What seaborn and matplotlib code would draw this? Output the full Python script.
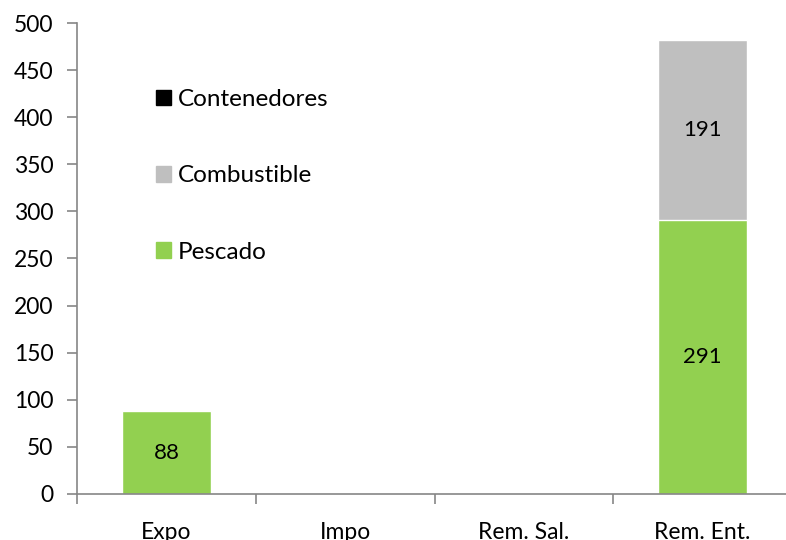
import matplotlib
matplotlib.use("Agg")
import matplotlib.pyplot as plt
from matplotlib.patches import Patch
from matplotlib.ticker import FixedLocator
import seaborn as sns
import pandas as pd

categorias = ["Expo", "Impo", "Rem. Sal.", "Rem. Ent."]
pescado = [88, 0, 0, 291]
combustible = [1, 0, 0, 191]
contenedores = [0, 0, 0, 0]

sns.set_style("white")
plt.rcParams['font.family'] = ['Lato', 'DejaVu Sans']
plt.rcParams['text.color'] = 'black'
plt.rcParams['xtick.labelcolor'] = 'black'
plt.rcParams['ytick.labelcolor'] = 'black'

df = pd.DataFrame({'Categoria': categorias,
                   'Pescado': pescado,
                   'Combustible': combustible,
                   'Contenedores': contenedores})
df['tot_comb'] = df['Pescado'] + df['Combustible']
df['tot_cont'] = df['tot_comb'] + df['Contenedores']

fig = plt.figure(figsize=(7.86, 5.4), dpi=100)
ax = fig.add_axes([0.098, 0.0852, 0.9097, 0.8722])

verde = '#92D050'
gris = '#BFBFBF'
negro = '#000000'

# stacked via layered cumulative bars
sns.barplot(data=df, x='Categoria', y='tot_cont', color=negro, width=0.5, ax=ax, saturation=1)
sns.barplot(data=df, x='Categoria', y='tot_comb', color=gris, width=0.5, ax=ax, saturation=1)
sns.barplot(data=df, x='Categoria', y='Pescado', color=verde, width=0.5, ax=ax, saturation=1)

for i in range(len(categorias)):
    if pescado[i] > 5:
        ax.text(i, pescado[i] / 2, str(pescado[i]), ha='center', va='center', fontsize=16)
    if combustible[i] > 5:
        ax.text(i, pescado[i] + combustible[i] / 2, str(combustible[i]),
                ha='center', va='center', fontsize=16)

ax.set_xlim(-0.5, 3.5)
ax.set_ylim(0, 500)
ax.set_yticks(range(0, 501, 50))
ax.set_xlabel('')
ax.set_ylabel('')

axcol = '#868686'
for s in ['top', 'right']:
    ax.spines[s].set_visible(False)
for s in ['left', 'bottom']:
    ax.spines[s].set_color(axcol)
    ax.spines[s].set_linewidth(1.2)

ax.tick_params(axis='y', direction='out', length=7, color=axcol, width=1.2,
               labelsize=16.5, pad=10, left=True)
ax.tick_params(axis='x', which='major', length=0, labelsize=16.5, pad=20)
ax.xaxis.set_minor_locator(FixedLocator([-0.5, 0.5, 1.5, 2.5, 3.5]))
ax.tick_params(axis='x', which='minor', direction='out', length=7, color=axcol,
               width=1.2, bottom=True)

handles = [Patch(color=negro), Patch(color=gris), Patch(color=verde)]
ax.legend(handles, ['Contenedores', 'Combustible', 'Pescado'], loc='upper left',
          bbox_to_anchor=(0.11, 0.86), frameon=False, fontsize=17.5,
          handlelength=0.62, handleheight=0.62, handletextpad=0.3,
          labelspacing=2.28, borderpad=0, borderaxespad=0)

fig.savefig('out.png', dpi=100)
